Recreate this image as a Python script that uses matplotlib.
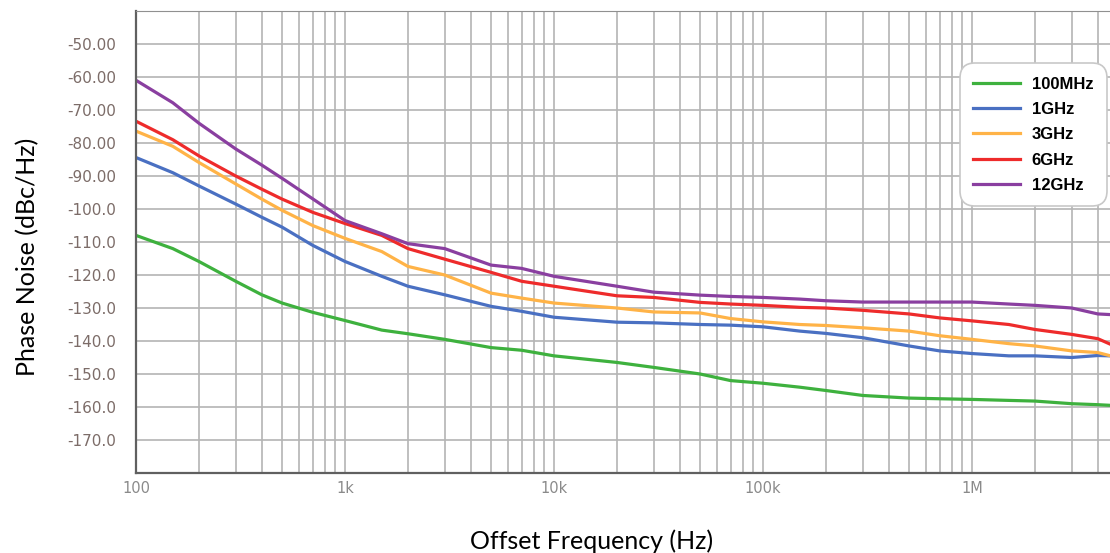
import numpy as np
import matplotlib
matplotlib.use("Agg")
import matplotlib.pyplot as plt
from matplotlib.ticker import FixedLocator, LogLocator, NullFormatter

# offset frequencies (Hz) and phase noise (dBc/Hz)
freq = [100, 150, 200, 300, 400, 500, 700, 1e3, 1.5e3, 2e3, 3e3, 5e3, 7e3,
        1e4, 2e4, 3e4, 5e4, 7e4, 1e5, 1.5e5, 2e5, 3e5, 5e5, 7e5,
        1e6, 1.5e6, 2e6, 3e6, 4e6, 4.6e6]

pn_100m = [-108.0, -112.0, -115.9, -121.9, -126.0, -128.5, -131.3, -133.8, -136.7,
           -137.8, -139.5, -142.0, -142.8, -144.5, -146.5, -148.0, -150.0, -152.0,
           -152.8, -154.0, -155.0, -156.5, -157.3, -157.5, -157.7, -158.0, -158.2,
           -159.0, -159.3, -159.5]
pn_1g = [-84.4, -89.0, -93.0, -98.5, -102.5, -105.5, -111.0, -115.9, -120.4,
         -123.4, -126.0, -129.5, -131.0, -132.8, -134.3, -134.5, -135.0, -135.2,
         -135.7, -137.0, -137.7, -139.0, -141.5, -143.0, -143.8, -144.5, -144.5,
         -145.0, -144.4, -144.5]
pn_3g = [-76.4, -81.0, -85.9, -92.4, -97.0, -100.4, -105.0, -108.9, -112.9,
         -117.4, -120.0, -125.5, -127.0, -128.5, -130.0, -131.2, -131.5, -133.2,
         -134.2, -135.0, -135.3, -136.0, -137.0, -138.4, -139.5, -140.8, -141.5,
         -143.0, -143.5, -144.5]
pn_6g = [-73.4, -79.0, -83.9, -90.0, -94.0, -97.0, -101.0, -104.4, -108.0,
         -112.0, -115.2, -119.2, -121.9, -123.4, -126.3, -126.8, -128.3, -128.8,
         -129.2, -129.8, -130.0, -130.7, -131.8, -133.0, -133.9, -135.0, -136.5,
         -138.0, -139.3, -141.0]
pn_12g = [-61.0, -67.8, -74.0, -81.8, -86.7, -90.7, -96.9, -103.5, -107.5,
          -110.5, -112.0, -117.0, -118.0, -120.4, -123.4, -125.2, -126.1, -126.5,
          -126.8, -127.3, -127.8, -128.2, -128.2, -128.2, -128.2, -128.8, -129.2,
          -130.0, -131.8, -132.0]

labels = ["100MHz", "1GHz", "3GHz", "6GHz", "12GHz"]
colors = ["#3eb13e", "#4a70c2", "#ffb347", "#ee2b2b", "#8a3fa0"]

yticks = [-50, -60, -70, -80, -90, -100, -110, -120, -130, -140, -150, -160, -170]
ytick_labels = ["-50.00", "-60.00", "-70.00", "-80.00", "-90.00", "-100.0", "-110.0",
                "-120.0", "-130.0", "-140.0", "-150.0", "-160.0", "-170.0"]
xticks = [100, 1e3, 1e4, 1e5, 1e6]
xtick_labels = ["100", "1k", "10k", "100k", "1M"]

fig = plt.figure(figsize=(11.1, 5.53), dpi=100)
ax = fig.add_axes([136 / 1110, 1 - 473 / 553, 1 - 136 / 1110, (473 - 11) / 553])

for y, lab, c in zip([pn_100m, pn_1g, pn_3g, pn_6g, pn_12g], labels, colors):
    ax.plot(freq, y, color=c, lw=2.3, label=lab)

ax.set_xscale("log")
ax.set_xlim(100, 100 * 10 ** ((1110 - 136) / 209))
ax.set_ylim(-180, -40)

ax.xaxis.set_major_locator(FixedLocator(xticks))
ax.set_xticklabels(xtick_labels)
ax.xaxis.set_minor_locator(LogLocator(base=10, subs=np.arange(2, 10)))
ax.xaxis.set_minor_formatter(NullFormatter())
ax.set_yticks(yticks)
ax.set_yticklabels(ytick_labels)

ax.grid(True, which="both", axis="x", color="#b4b4b4", lw=1.2)
ax.grid(True, which="major", axis="y", color="#b4b4b4", lw=1.2)
ax.set_axisbelow(True)

ax.tick_params(axis="y", length=0, pad=14, labelsize=11, labelcolor="#7c6c68")
ax.tick_params(axis="x", which="both", length=0, pad=6, labelsize=10.5, labelcolor="#8a8a8a")

for s in ["left", "bottom"]:
    ax.spines[s].set_color("#606060")
    ax.spines[s].set_linewidth(1.6)
ax.spines["top"].set_color("#909090")
ax.spines["right"].set_visible(False)

fig.text(0.025, 0.535, "Phase Noise (dBc/Hz)", rotation=90, ha="center", va="center",
         fontsize=18, family="Lato")
fig.text(0.533, 0.022, "Offset Frequency (Hz)", ha="center", va="center",
         fontsize=18, family="Lato")

leg = ax.legend(loc="upper right", bbox_to_anchor=(1.0, 0.894), frameon=True,
                fancybox=True, handlelength=2.8, labelspacing=0.62,
                prop={"weight": "bold", "size": 12, "family": "Liberation Sans"},
                borderpad=0.8, handletextpad=0.7, borderaxespad=0.2)
frame = leg.get_frame()
frame.set_edgecolor("#c8c8c8")
frame.set_linewidth(1.2)
frame.set_alpha(1)
frame.set_boxstyle("round,pad=0,rounding_size=0.9")

fig.savefig("out.png", dpi=100)
